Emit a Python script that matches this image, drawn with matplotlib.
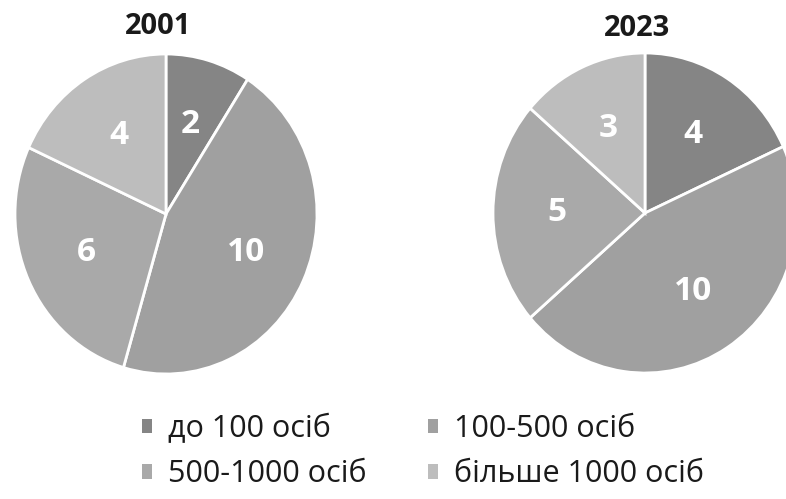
import matplotlib.pyplot as plt
from matplotlib.patches import Patch

plt.rcParams["font.family"] = ["Open Sans", "DejaVu Sans"]

categories = ["до 100 осіб", "100-500 осіб", "500-1000 осіб", "більше 1000 осіб"]
years = ["2001", "2023"]
values_2001 = [2, 10, 6, 4]
values_2023 = [4, 10, 5, 3]

colors = ["#858585", "#a0a0a0", "#a9a9a9", "#bdbdbd"]

W, H = 786, 499
fig = plt.figure(figsize=(W / 100, H / 100), dpi=100)


def px_axes(cx, cy, rx, ry):
    # axes box in pixel units measured from the top-left corner
    return fig.add_axes([(cx - rx) / W, (H - cy - ry) / H, 2 * rx / W, 2 * ry / H])


def draw_pie(ax, vals):
    total = sum(vals)
    ax.pie(
        vals,
        colors=colors,
        startangle=90,
        counterclock=False,
        radius=1,
        autopct=lambda p: f"{p * total / 100:.0f}",
        pctdistance=0.58,
        wedgeprops=dict(edgecolor="white", linewidth=2),
        textprops=dict(color="white", fontsize=24, fontweight="bold"),
    )
    ax.set_aspect("auto")
    ax.set_xlim(-1, 1)
    ax.set_ylim(-1, 1)
    ax.axis("off")


ax1 = px_axes(166, 214, 151, 160)
draw_pie(ax1, values_2001)
ax2 = px_axes(645, 213, 152, 160)
draw_pie(ax2, values_2023)

fig.text(158 / W, 1 - 27 / H, years[0], ha="center", va="center",
         fontsize=21, fontweight="bold", color="#1a1a1a")
fig.text(637 / W, 1 - 28 / H, years[1], ha="center", va="center",
         fontsize=21, fontweight="bold", color="#1a1a1a")

handles = [Patch(facecolor=c, edgecolor="none") for c in colors]
order = [0, 2, 1, 3]
fig.legend(
    [handles[i] for i in order],
    [categories[i] for i in order],
    ncol=2,
    loc="upper left",
    bbox_to_anchor=(142 / W, 1 - 414 / H),
    frameon=False,
    fontsize=22,
    handlelength=0.34,
    handleheight=0.34,
    handletextpad=0.52,
    columnspacing=2.0,
    labelspacing=0.5,
    labelcolor="#1a1a1a",
    borderaxespad=0,
    borderpad=0,
)

fig.savefig("out.png", dpi=100, facecolor="white")
